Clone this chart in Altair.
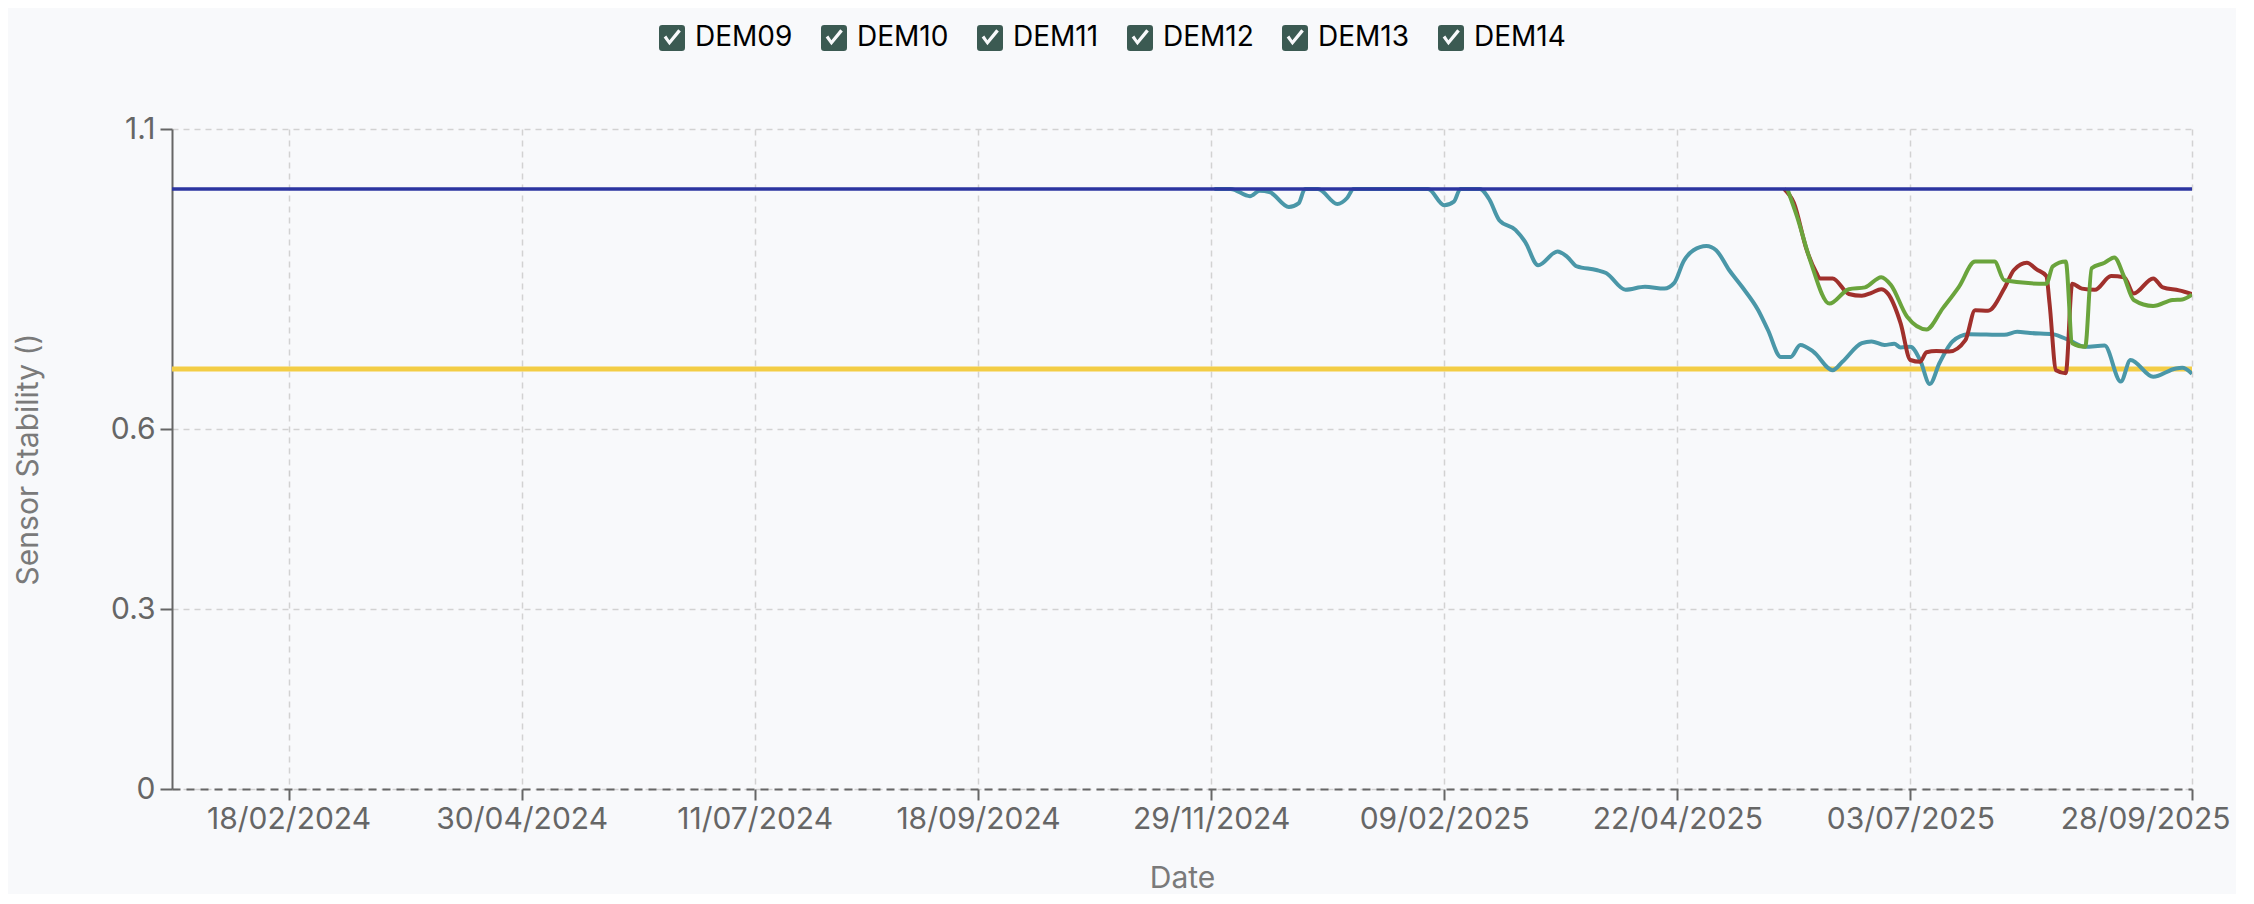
import altair as alt
import pandas as pd

# ---------------- data ----------------
series_names = ["DEM09", "DEM10", "DEM11", "DEM12", "DEM13", "DEM14"]

dem09_dates = [
    "2024-11-30", "2024-12-05", "2024-12-11", "2024-12-14", "2024-12-17", "2024-12-23",
    "2024-12-26", "2024-12-28", "2025-01-01", "2025-01-07", "2025-01-10", "2025-01-12",
    "2025-02-04", "2025-02-09", "2025-02-12", "2025-02-14", "2025-02-20", "2025-02-23",
    "2025-02-26", "2025-03-03", "2025-03-06", "2025-03-10", "2025-03-16", "2025-03-19",
    "2025-03-22", "2025-03-28", "2025-03-31", "2025-04-06", "2025-04-12", "2025-04-18",
    "2025-04-21", "2025-04-24", "2025-04-27", "2025-05-01", "2025-05-04", "2025-05-08",
    "2025-05-12", "2025-05-17", "2025-05-20", "2025-05-24", "2025-05-27", "2025-05-30",
    "2025-06-03", "2025-06-09", "2025-06-12", "2025-06-18", "2025-06-21", "2025-06-25",
    "2025-06-28", "2025-06-30", "2025-07-03", "2025-07-06", "2025-07-09", "2025-07-12",
    "2025-07-16", "2025-07-21", "2025-08-01", "2025-08-05", "2025-08-09", "2025-08-16",
    "2025-08-21", "2025-08-26", "2025-09-01", "2025-09-06", "2025-09-09", "2025-09-16",
    "2025-09-23", "2025-09-25", "2025-09-28",
]
dem09_values = [
    1.0, 1.0, 0.988, 0.997, 0.995, 0.970,
    0.976, 1.0, 1.0, 0.975, 0.985, 1.0,
    1.0, 0.973, 0.979, 1.0, 1.0, 0.982,
    0.948, 0.932, 0.912, 0.873, 0.896, 0.887,
    0.871, 0.865, 0.860, 0.832, 0.837, 0.834,
    0.843, 0.880, 0.898, 0.905, 0.898, 0.865,
    0.837, 0.798, 0.765, 0.720, 0.720, 0.740,
    0.729, 0.698, 0.712, 0.743, 0.746, 0.740,
    0.742, 0.736, 0.737, 0.715, 0.675, 0.710,
    0.746, 0.758, 0.757, 0.762, 0.760, 0.758,
    0.748, 0.737, 0.739, 0.679, 0.715, 0.687,
    0.701, 0.702, 0.692,
]

dem10_dates = [
    "2025-05-25", "2025-05-28", "2025-06-01", "2025-06-04", "2025-06-05", "2025-06-09",
    "2025-06-14", "2025-06-18", "2025-06-21", "2025-06-24", "2025-06-26", "2025-06-30",
    "2025-07-03", "2025-07-06", "2025-07-08", "2025-07-11", "2025-07-15", "2025-07-20",
    "2025-07-23", "2025-07-27", "2025-08-01", "2025-08-04", "2025-08-08", "2025-08-11",
    "2025-08-14", "2025-08-15", "2025-08-17", "2025-08-20", "2025-08-22", "2025-08-25",
    "2025-08-29", "2025-09-03", "2025-09-07", "2025-09-10", "2025-09-16", "2025-09-19",
    "2025-09-24", "2025-09-28",
]
dem10_values = [
    1.0, 0.977, 0.898, 0.860, 0.851, 0.851,
    0.825, 0.822, 0.827, 0.833, 0.826, 0.776,
    0.715, 0.712, 0.728, 0.730, 0.729, 0.748,
    0.798, 0.797, 0.834, 0.865, 0.877, 0.866,
    0.855, 0.809, 0.698, 0.693, 0.842, 0.834,
    0.832, 0.855, 0.853, 0.826, 0.851, 0.836,
    0.831, 0.825,
]

dem11_dates = [
    "2025-05-26", "2025-05-29", "2025-06-02", "2025-06-08", "2025-06-14", "2025-06-19",
    "2025-06-24", "2025-06-27", "2025-07-02", "2025-07-08", "2025-07-13", "2025-07-18",
    "2025-07-23", "2025-07-29", "2025-08-01", "2025-08-14", "2025-08-16", "2025-08-20",
    "2025-08-22", "2025-08-26", "2025-08-28", "2025-09-01", "2025-09-04", "2025-09-07",
    "2025-09-10", "2025-09-16", "2025-09-22", "2025-09-25", "2025-09-28",
]
dem11_values = [
    1.0, 0.954, 0.882, 0.809, 0.833, 0.836,
    0.853, 0.840, 0.787, 0.766, 0.801, 0.837,
    0.879, 0.879, 0.848, 0.842, 0.871, 0.879,
    0.743, 0.737, 0.868, 0.877, 0.886, 0.854,
    0.815, 0.805, 0.815, 0.816, 0.824,
]

line_series = ["DEM09", "DEM10", "DEM11"]
line_colors = ["#4a97a8", "#a0302c", "#6aa43c"]

upper_threshold = [1.0]
lower_threshold = [0.7]

x_domain = [(2024, 1, 13), (2025, 9, 28)]
x_tick_dates = [
    (2024, 2, 18), (2024, 4, 30), (2024, 7, 11), (2024, 9, 18), (2024, 11, 29),
    (2025, 2, 9), (2025, 4, 22), (2025, 7, 3), (2025, 9, 28),
]
y_ticks = [0, 0.3, 0.6, 1.1]

# ---------------- tables ----------------
rows = []
for name, ds, vs in [("DEM09", dem09_dates, dem09_values),
                     ("DEM10", dem10_dates, dem10_values),
                     ("DEM11", dem11_dates, dem11_values)]:
    for d, v in zip(ds, vs):
        rows.append({"series": name, "date": d, "value": v})
df = pd.DataFrame(rows)

up_df = pd.DataFrame({"value": upper_threshold})
low_df = pd.DataFrame({"value": lower_threshold})

def dt(t):
    return alt.DateTime(year=t[0], month=t[1], date=t[2], utc=True)

FONT = "Inter"
TICK_COLOR = "#666666"
TITLE_COLOR = "#7a7a7a"
GRID_COLOR = "#d2d2d2"

x_enc = alt.X(
    "date:T",
    title="Date",
    scale=alt.Scale(type="utc", domain=[dt(x_domain[0]), dt(x_domain[1])]),
    axis=alt.Axis(
        values=[dt(t) for t in x_tick_dates],
        format="%d/%m/%Y",
        labelFont=FONT, labelFontSize=30, labelColor=TICK_COLOR,
        labelPadding=4, tickSize=11, tickColor=TICK_COLOR, tickWidth=2,
        labelFlush=True, labelFlushOffset=38, labelBound=False,
        domainColor=TICK_COLOR, domainWidth=2, domainDash=[8, 6],
        grid=True, gridColor=GRID_COLOR, gridDash=[6, 5], gridWidth=1.5,
        titleFont=FONT, titleFontSize=30, titleColor=TITLE_COLOR,
        titleFontWeight="normal", titleBaseline="alphabetic", titleY=98,
        labelOverlap=False,
    ),
)

y_enc = alt.Y(
    "value:Q",
    title="Sensor Stability ()",
    scale=alt.Scale(domain=[0, 1.1], nice=False, zero=True),
    axis=alt.Axis(
        values=y_ticks,
        format=".2~f",
        labelFont=FONT, labelFontSize=30, labelColor=TICK_COLOR,
        labelPadding=5, tickSize=12, tickColor=TICK_COLOR, tickWidth=2,
        labelFlush=False,
        domainColor=TICK_COLOR, domainWidth=2,
        grid=True, gridColor=GRID_COLOR, gridDash=[6, 5], gridWidth=1.5,
        titleFont=FONT, titleFontSize=30, titleColor=TITLE_COLOR,
        titleFontWeight="normal", titleBaseline="alphabetic",
        titleAngle=270, titleAlign="center", titleX=-135, titleY=330,
        labelOverlap=False,
    ),
)

check_path = (
    "M-0.75,-1 L0.75,-1 Q1,-1 1,-0.75 L1,0.75 Q1,1 0.75,1 L-0.75,1 "
    "Q-1,1 -1,0.75 L-1,-0.75 Q-1,-1 -0.75,-1 Z "
    "M-0.64,-0.04 L-0.2,0.56 L0.68,-0.5 L0.48,-0.68 L-0.2,0.18 L-0.44,-0.2 Z"
)

low_rule = alt.Chart(low_df).mark_rule(color="#f3cd45", strokeWidth=5).encode(y=y_enc)
up_rule = alt.Chart(up_df).mark_rule(color="#2c35a0", strokeWidth=3.5).encode(y=y_enc)

lines = alt.Chart(df).mark_line(interpolate="monotone", strokeWidth=4, clip=True).encode(
    x=x_enc,
    y=y_enc,
    color=alt.Color("series:N", scale=alt.Scale(domain=line_series, range=line_colors), legend=None),
)

legend_layer = alt.Chart(df).transform_filter("false").mark_point(
    filled=True, color="#3b5a52", opacity=1
).encode(
    x=x_enc,
    y=y_enc,
    shape=alt.Shape(
        "series:N",
        scale=alt.Scale(domain=series_names, range=[check_path] * len(series_names)),
        legend=alt.Legend(
            title=None, orient="none", direction="horizontal", columns=6,
            legendX=486, legendY=-105,
            symbolSize=676, symbolFillColor="#3b5a52", symbolStrokeWidth=0,
            symbolOpacity=1,
            labelFont=FONT, labelFontSize=28, labelColor="#000000",
            labelOffset=9, columnPadding=27,
        ),
    ),
)

chart = alt.layer(low_rule, lines, up_rule, legend_layer).properties(
    width=2020,
    height=660,
    autosize=alt.AutoSizeParams(type="none"),
    padding={"left": 164, "top": 121, "right": 44, "bottom": 105},
    background="#f8f9fb",
).configure_view(stroke=None)

chart.save("out.html", embed_options={"renderer": "svg", "actions": False})
